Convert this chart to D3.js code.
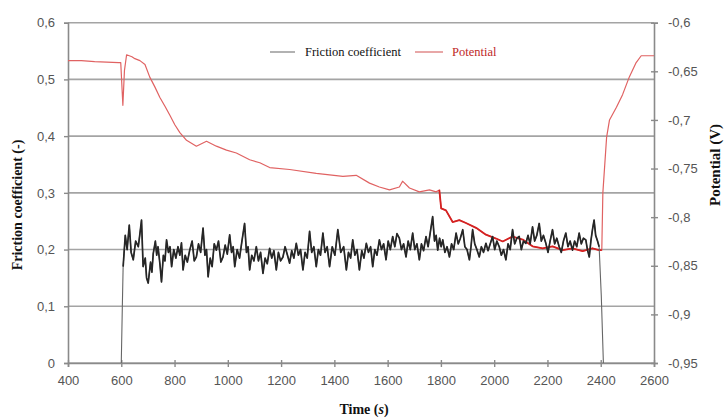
<!DOCTYPE html>
<html><head><meta charset="utf-8">
<script src="https://cdn.jsdelivr.net/npm/d3@7"></script>
<style>body{margin:0;background:#fff}svg{display:block}</style>
</head><body>
<svg id="chart" width="726" height="420"></svg>
<script>
// Time (s), friction coefficient (-)
const frictionTime = [600,604,607,615,622,630,637,645,654,664,670,676,682,690,695,701,710,715,720,728,733,738,745,751,758,764,770,777,783,789,797,805,813,820,826,832,840,848,857,866,874,882,890,898,907,914,920,926,934,941,949,957,965,974,982,990,998,1007,1014,1020,1026,1035,1044,1053,1063,1070,1076,1082,1090,1098,1107,1115,1123,1132,1140,1148,1157,1165,1173,1182,1190,1198,1207,1215,1224,1232,1240,1248,1257,1265,1273,1282,1290,1298,1307,1315,1323,1332,1340,1348,1357,1365,1373,1382,1392,1402,1413,1424,1435,1445,1453,1461,1469,1477,1485,1494,1503,1511,1520,1528,1536,1544,1552,1560,1569,1577,1585,1594,1602,1610,1619,1627,1635,1644,1652,1660,1669,1677,1685,1694,1702,1710,1719,1727,1735,1744,1752,1760,1769,1776,1782,1788,1795,1801,1807,1815,1823,1832,1840,1848,1857,1865,1873,1882,1890,1898,1907,1913,1919,1927,1935,1944,1952,1960,1969,1977,1985,1994,2002,2010,2019,2027,2035,2044,2052,2060,2069,2077,2085,2094,2102,2110,2119,2127,2135,2144,2152,2160,2169,2177,2185,2194,2202,2210,2219,2227,2235,2244,2252,2260,2269,2277,2285,2294,2302,2310,2319,2327,2335,2344,2350,2357,2363,2369,2375,2381,2388,2394,2402,2410];
const frictionValue = [0,0.10,0.170,0.225,0.200,0.243,0.195,0.182,0.215,0.205,0.228,0.252,0.170,0.185,0.150,0.141,0.178,0.160,0.193,0.215,0.190,0.205,0.175,0.143,0.190,0.180,0.217,0.195,0.205,0.170,0.200,0.185,0.205,0.190,0.212,0.164,0.190,0.178,0.199,0.215,0.180,0.187,0.210,0.195,0.238,0.190,0.200,0.152,0.185,0.170,0.210,0.199,0.215,0.178,0.187,0.208,0.192,0.226,0.195,0.205,0.170,0.200,0.185,0.215,0.246,0.195,0.205,0.164,0.190,0.180,0.205,0.180,0.195,0.158,0.185,0.175,0.202,0.185,0.198,0.164,0.195,0.180,0.187,0.205,0.190,0.176,0.198,0.185,0.211,0.190,0.200,0.164,0.195,0.185,0.232,0.195,0.205,0.170,0.200,0.190,0.229,0.195,0.205,0.170,0.205,0.190,0.235,0.195,0.205,0.164,0.195,0.185,0.217,0.190,0.200,0.164,0.198,0.185,0.211,0.195,0.205,0.170,0.200,0.190,0.217,0.200,0.210,0.182,0.215,0.200,0.223,0.205,0.228,0.220,0.200,0.210,0.187,0.215,0.200,0.229,0.200,0.210,0.182,0.210,0.198,0.223,0.205,0.230,0.258,0.215,0.225,0.199,0.220,0.205,0.217,0.195,0.205,0.187,0.210,0.200,0.229,0.210,0.220,0.235,0.205,0.200,0.182,0.205,0.235,0.210,0.200,0.187,0.205,0.195,0.211,0.198,0.210,0.223,0.200,0.215,0.205,0.190,0.200,0.182,0.210,0.200,0.235,0.210,0.220,0.223,0.200,0.215,0.211,0.225,0.210,0.240,0.215,0.225,0.246,0.215,0.225,0.211,0.195,0.215,0.235,0.210,0.220,0.205,0.195,0.215,0.229,0.205,0.215,0.199,0.215,0.205,0.229,0.210,0.220,0.217,0.200,0.187,0.215,0.235,0.252,0.225,0.215,0.205,0.12,0];
// Time (s), potential (V)
const potentialTime = [400,450,500,590,598,606,612,620,640,651,670,689,707,726,745,764,782,801,820,845,882,920,957,995,1032,1082,1120,1157,1232,1332,1432,1482,1532,1569,1607,1644,1656,1682,1719,1757,1782,1794,1801,1819,1844,1869,1894,1932,1969,2007,2032,2069,2107,2144,2182,2219,2257,2294,2332,2369,2394,2404,2408,2422,2433,2459,2482,2507,2533,2552,2600];
const potentialValue = [-0.639,-0.639,-0.640,-0.641,-0.641,-0.685,-0.649,-0.633,-0.635,-0.637,-0.639,-0.643,-0.656,-0.666,-0.677,-0.686,-0.695,-0.705,-0.713,-0.721,-0.727,-0.722,-0.727,-0.731,-0.734,-0.741,-0.744,-0.749,-0.751,-0.755,-0.758,-0.757,-0.765,-0.769,-0.772,-0.769,-0.763,-0.770,-0.774,-0.772,-0.774,-0.772,-0.791,-0.793,-0.805,-0.803,-0.806,-0.811,-0.818,-0.822,-0.825,-0.820,-0.823,-0.830,-0.832,-0.830,-0.834,-0.832,-0.835,-0.832,-0.834,-0.834,-0.775,-0.718,-0.700,-0.687,-0.674,-0.656,-0.641,-0.634,-0.634];
const xTicks = [400,600,800,1000,1200,1400,1600,1800,2000,2200,2400,2600];
const leftTicks = [0,0.1,0.2,0.3,0.4,0.5,0.6];
const rightTicks = [-0.95,-0.9,-0.85,-0.8,-0.75,-0.7,-0.65,-0.6];
const seriesNames = ["Friction coefficient","Potential"];

const svg = d3.select("#chart");
const L = 68, R = 654, T = 22.7, B = 363;
const x = d3.scaleLinear().domain([400,2600]).range([L,R]);
const yL = d3.scaleLinear().domain([0,0.6]).range([B,T]);
const yR = d3.scaleLinear().domain([-0.95,-0.6]).range([B,T]);
const fmt = d => String(+d.toFixed(2)).replace(".", ",");
const tickFont = "'Liberation Sans', Arial, sans-serif";
const serif = "'Liberation Serif', 'Times New Roman', serif";

// grid lines
svg.append("g").selectAll("line").data(leftTicks).join("line")
  .attr("x1", L).attr("x2", R).attr("y1", d => yL(d)).attr("y2", d => yL(d))
  .attr("stroke", "#a4a4a4").attr("stroke-width", 1.6);

// axes
const gL = svg.append("g").attr("transform", `translate(${L},0)`)
  .call(d3.axisLeft(yL).tickValues(leftTicks).tickFormat(fmt).tickSize(4).tickPadding(9));
const gB = svg.append("g").attr("transform", `translate(0,${B})`)
  .call(d3.axisBottom(x).tickValues(xTicks).tickFormat(d3.format("d")).tickSize(4).tickPadding(9));
const gR = svg.append("g").attr("transform", `translate(${R},0)`)
  .call(d3.axisRight(yR).tickValues(rightTicks).tickFormat(fmt).tickSize(4).tickPadding(10));
[gL,gB,gR].forEach(g => {
  g.select(".domain").attr("stroke", "#8a8a8a").attr("stroke-width", 1.6);
  g.selectAll(".tick line").attr("stroke", "#8a8a8a").attr("stroke-width", 1.4);
  g.selectAll("text").attr("fill", "#555").style("font-family", tickFont).style("font-size", "13px");
});
gB.selectAll(".tick line").attr("y1", -3);
gR.selectAll(".tick line").attr("x1", -3);

// series
const fData = frictionTime.map((t,i) => [t, frictionValue[i]]);
const pData = potentialTime.map((t,i) => [t, potentialValue[i]]);
const lineF = d3.line().x(d => x(d[0])).y(d => yL(d[1]));
const lineP = d3.line().x(d => x(d[0])).y(d => yR(d[1]));
svg.append("path").datum(pData).attr("d", lineP)
  .attr("fill", "none").attr("stroke", "#e06262").attr("stroke-width", 1.2).attr("stroke-linejoin", "round");
svg.append("path").datum(pData.filter(d => d[0] >= 1794 && d[0] <= 2404)).attr("d", lineP)
  .attr("fill", "none").attr("stroke", "#d42222").attr("stroke-width", 1.8).attr("stroke-linejoin", "round");
svg.append("path").datum(fData).attr("d", lineF)
  .attr("fill", "none").attr("stroke", "#666").attr("stroke-width", 1.1).attr("stroke-linejoin", "round");
svg.append("path").datum(fData.filter(d => d[0] >= 607 && d[0] <= 2394)).attr("d", lineF)
  .attr("fill", "none").attr("stroke", "#262626").attr("stroke-width", 1.7).attr("stroke-linejoin", "round");

// legend
const lg = svg.append("g");
lg.append("line").attr("x1", 270).attr("x2", 295).attr("y1", 52).attr("y2", 52).attr("stroke", "#999").attr("stroke-width", 1.5);
lg.append("text").attr("x", 305).attr("y", 56).text(seriesNames[0])
  .style("font-family", serif).style("font-size", "12.5px").attr("fill", "#111");
lg.append("line").attr("x1", 415).attr("x2", 443).attr("y1", 52).attr("y2", 52).attr("stroke", "#e08a8a").attr("stroke-width", 1.5);
lg.append("text").attr("x", 452).attr("y", 56).text(seriesNames[1])
  .style("font-family", serif).style("font-size", "12.5px").attr("fill", "#c02828");

// axis titles
svg.append("text").attr("transform", "translate(22,205) rotate(-90)").attr("text-anchor", "middle")
  .style("font-family", serif).style("font-weight", "bold").style("font-size", "14px").attr("fill", "#111")
  .text("Friction coefficient (-)");
svg.append("text").attr("transform", "translate(720,165) rotate(-90)").attr("text-anchor", "middle")
  .style("font-family", serif).style("font-weight", "bold").style("font-size", "15px").attr("fill", "#111")
  .text("Potential (V)");
const tt = svg.append("text").attr("x", 364).attr("y", 414).attr("text-anchor", "middle")
  .style("font-family", serif).style("font-weight", "bold").style("font-size", "14px").attr("fill", "#111");
tt.append("tspan").text("Time (");
tt.append("tspan").style("font-style", "italic").text("s");
tt.append("tspan").text(")");
</script>
</body></html>
